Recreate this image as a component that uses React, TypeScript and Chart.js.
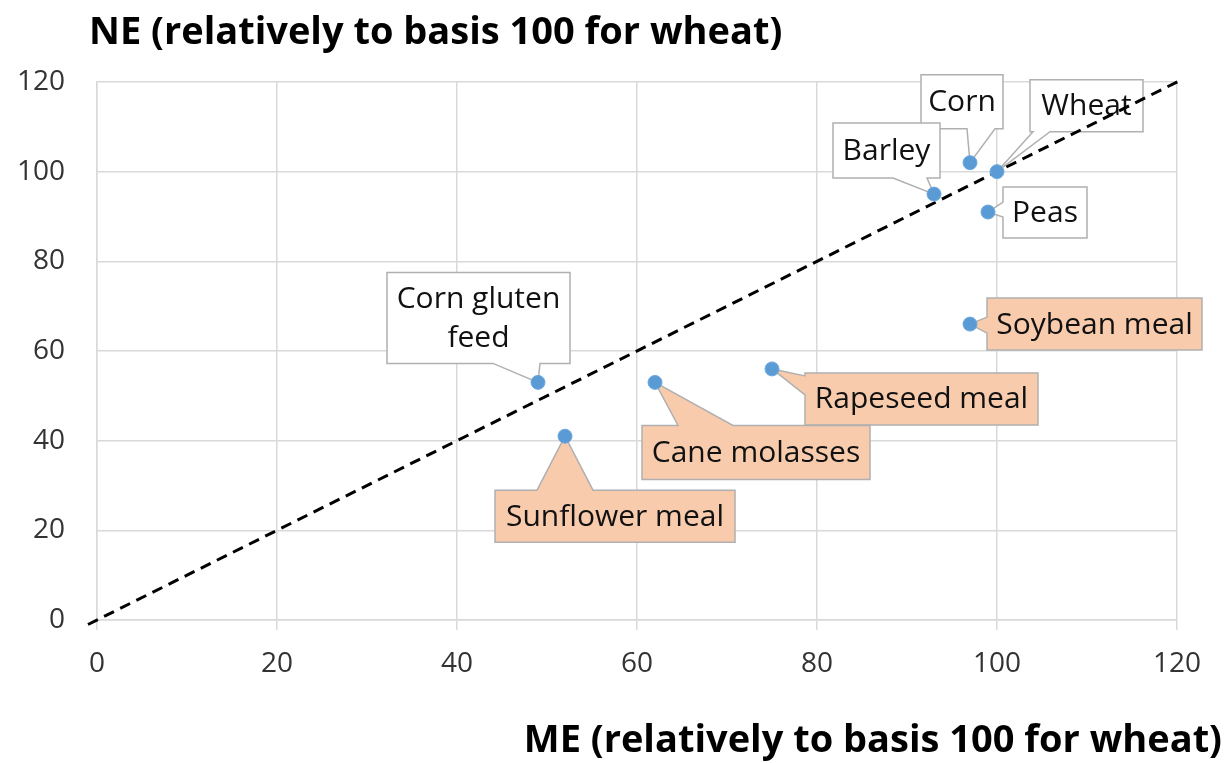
import React, { useEffect, useRef } from "react";
import { Chart, registerables } from "chart.js";

Chart.register(...registerables);

// ---- data ----
const feedNames = [
  "Wheat",
  "Corn",
  "Barley",
  "Peas",
  "Soybean meal",
  "Rapeseed meal",
  "Cane molasses",
  "Corn gluten feed",
  "Sunflower meal",
];
const meValues = [100, 97, 93, 99, 97, 75, 62, 49, 52];
const neValues = [100, 102, 95, 91, 66, 56, 53, 53, 41];
const refLineX = [-1, 120.7];
const refLineY = [-1, 120.7];
const axisMin = 0;
const axisMax = 120;
const axisStep = 20;
const yTitleText = "NE (relatively to basis 100 for wheat)";
const xTitleText = "ME (relatively to basis 100 for wheat)";

// ---- callout layout (pixels, relative to each point) ----
type Callout = {
  lines: string[];
  dx: number;
  dy: number;
  w: number;
  h: number;
  edge: "top" | "bottom" | "left" | "right";
  b1: number;
  b2: number;
  fill: string;
};
const WHITE = "#ffffff";
const PEACH = "#F8CBAD";
const calloutLayout: Callout[] = [
  { lines: ["Wheat"], dx: 33, dy: -92, w: 113, h: 52, edge: "bottom", b1: 3, b2: 20, fill: WHITE },
  { lines: ["Corn"], dx: -49, dy: -88, w: 82, h: 54, edge: "bottom", b1: 46, b2: 74, fill: WHITE },
  { lines: ["Barley"], dx: -101, dy: -71, w: 107, h: 55, edge: "bottom", b1: 60, b2: 94, fill: WHITE },
  { lines: ["Peas"], dx: 15, dy: -25, w: 84, h: 51, edge: "left", b1: 15, b2: 30, fill: WHITE },
  { lines: ["Soybean meal"], dx: 17, dy: -26, w: 215, h: 52, edge: "left", b1: 19, b2: 35, fill: PEACH },
  { lines: ["Rapeseed meal"], dx: 33, dy: 4, w: 233, h: 52, edge: "left", b1: 3, b2: 22, fill: PEACH },
  { lines: ["Cane molasses"], dx: -13, dy: 43, w: 228, h: 54, edge: "top", b1: 36, b2: 91, fill: PEACH },
  { lines: ["Corn gluten", "feed"], dx: -151, dy: -110, w: 183, h: 91, edge: "bottom", b1: 106, b2: 153, fill: WHITE },
  { lines: ["Sunflower meal"], dx: -70, dy: 54, w: 240, h: 52, edge: "top", b1: 42, b2: 98, fill: PEACH },
];

const FONT = "'Open Sans', 'DejaVu Sans', sans-serif";

const calloutPlugin = {
  id: "callouts",
  beforeDatasetsDraw(chart: any) {
    const ctx = chart.ctx as CanvasRenderingContext2D;
    const xs = chart.scales.x;
    const ys = chart.scales.y;
    ctx.save();
    feedNames.forEach((_, i) => {
      const L = calloutLayout[i];
      const px = xs.getPixelForValue(meValues[i]);
      const py = ys.getPixelForValue(neValues[i]);
      const x0 = px + L.dx;
      const y0 = py + L.dy;
      const x1 = x0 + L.w;
      const y1 = y0 + L.h;
      const pts: number[][] = [];
      pts.push([x0, y0]);
      if (L.edge === "top") pts.push([x0 + L.b1, y0], [px, py], [x0 + L.b2, y0]);
      pts.push([x1, y0]);
      if (L.edge === "right") pts.push([x1, y0 + L.b1], [px, py], [x1, y0 + L.b2]);
      pts.push([x1, y1]);
      if (L.edge === "bottom") pts.push([x0 + L.b2, y1], [px, py], [x0 + L.b1, y1]);
      pts.push([x0, y1]);
      if (L.edge === "left") pts.push([x0, y0 + L.b2], [px, py], [x0, y0 + L.b1]);
      ctx.beginPath();
      pts.forEach((p, k) => (k === 0 ? ctx.moveTo(p[0], p[1]) : ctx.lineTo(p[0], p[1])));
      ctx.closePath();
      ctx.fillStyle = L.fill;
      ctx.fill();
      ctx.lineWidth = 1.5;
      ctx.strokeStyle = "#B0B0B0";
      ctx.stroke();
      ctx.fillStyle = "#111111";
      ctx.font = `30px ${FONT}`;
      ctx.textAlign = "center";
      ctx.textBaseline = "middle";
      const lh = 39;
      const cy = (y0 + y1) / 2 + 1;
      L.lines.forEach((t, k) => {
        ctx.fillText(t, (x0 + x1) / 2, cy + (k - (L.lines.length - 1) / 2) * lh);
      });
    });
    ctx.restore();
  },
  afterDraw(chart: any) {
    const ctx = chart.ctx as CanvasRenderingContext2D;
    ctx.save();
    ctx.fillStyle = "#000000";
    ctx.font = `bold 38px ${FONT}`;
    ctx.textBaseline = "middle";
    ctx.textAlign = "left";
    ctx.fillText(yTitleText, 89, 33);
    ctx.textAlign = "right";
    ctx.fillText(xTitleText, 1222, 741);
    ctx.restore();
  },
};

export default function App() {
  const canvasRef = useRef<HTMLCanvasElement | null>(null);

  useEffect(() => {
    if (!canvasRef.current) return;
    const chart = new Chart(canvasRef.current, {
      type: "scatter",
      data: {
        datasets: [
          {
            label: "Feeds",
            data: feedNames.map((_, i) => ({ x: meValues[i], y: neValues[i] })),
            backgroundColor: "#5B9BD5",
            borderColor: "#6FA8DC",
            borderWidth: 1,
            pointRadius: 7,
          },
          {
            label: "y = x",
            data: refLineX.map((x, i) => ({ x, y: refLineY[i] })),
            showLine: true,
            borderColor: "#000000",
            borderWidth: 3,
            borderDash: [11, 7],
            pointRadius: 0,
            clip: false as any,
          },
        ],
      },
      options: {
        animation: false,
        responsive: true,
        maintainAspectRatio: false,
        layout: { padding: { top: 82, left: 0, right: 50, bottom: 63 } },
        plugins: {
          legend: { display: false },
          tooltip: { enabled: false },
          title: { display: false },
        },
        scales: {
          x: {
            type: "linear",
            min: axisMin,
            max: axisMax,
            ticks: {
              stepSize: axisStep,
              color: "#333333",
              font: { family: FONT, size: 28 },
              padding: 17,
            },
            grid: { color: "#D9D9D9", lineWidth: 1.5, tickLength: 10, drawTicks: true },
            border: { color: "#D9D9D9", width: 1.5 },
            afterFit: (s: any) => {
              s.height = 80;
            },
          },
          y: {
            type: "linear",
            min: axisMin,
            max: axisMax,
            ticks: {
              stepSize: axisStep,
              color: "#333333",
              font: { family: FONT, size: 28 },
              padding: 32,
            },
            grid: { color: "#D9D9D9", lineWidth: 1.5, drawTicks: false },
            border: { color: "#D9D9D9", width: 1.5 },
            afterFit: (s: any) => {
              s.width = 97;
            },
          },
        },
      },
      plugins: [calloutPlugin],
    });
    return () => chart.destroy();
  }, []);

  return (
    <div style={{ position: "fixed", left: 0, top: 0, width: 1227, height: 763, background: "#fff" }}>
      <canvas ref={canvasRef} />
    </div>
  );
}
